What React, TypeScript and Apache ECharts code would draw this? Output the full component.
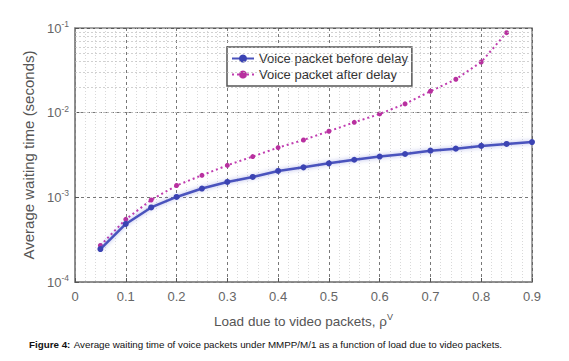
import React, { useEffect, useRef } from "react";
import * as echarts from "echarts";

const loadBefore = [0.05, 0.1, 0.15, 0.2, 0.25, 0.3, 0.35, 0.4, 0.45, 0.5, 0.55, 0.6, 0.65, 0.7, 0.75, 0.8, 0.85, 0.9];
const waitBefore = [2.45e-4, 4.85e-4, 7.6e-4, 1.01e-3, 1.27e-3, 1.52e-3, 1.74e-3, 2.05e-3, 2.26e-3, 2.52e-3, 2.78e-3, 3.03e-3, 3.25e-3, 3.56e-3, 3.76e-3, 4.05e-3, 4.27e-3, 4.5e-3];
const loadAfter = [0.05, 0.1, 0.15, 0.2, 0.25, 0.3, 0.35, 0.4, 0.45, 0.5, 0.55, 0.6, 0.65, 0.7, 0.75, 0.8, 0.85];
const waitAfter = [2.7e-4, 5.5e-4, 9.3e-4, 1.38e-3, 1.82e-3, 2.39e-3, 3.03e-3, 3.87e-3, 4.76e-3, 6.03e-3, 7.69e-3, 9.66e-3, 1.27e-2, 1.79e-2, 2.48e-2, 3.97e-2, 8.8e-2];
const xTicks = [0, 0.1, 0.2, 0.3, 0.4, 0.5, 0.6, 0.7, 0.8, 0.9];
const decades = [1e-4, 1e-3, 1e-2];
const minorMultipliers = [2, 3, 4, 5, 6, 7, 8, 9];

const FONT = "'Liberation Sans', Arial, sans-serif";

export default function App() {
  const ref = useRef<HTMLDivElement>(null);
  useEffect(() => {
    if (!ref.current) return;
    const chart = echarts.init(ref.current, undefined, { renderer: "svg" });
    const minorLines: any[] = [];
    decades.forEach((d) => minorMultipliers.forEach((m) => minorLines.push({ yAxis: d * m })));

    chart.setOption({
      animation: false,
      textStyle: { fontFamily: FONT },
      grid: { left: 67, top: 20, width: 457, height: 254, show: true, borderColor: "#888", borderWidth: 1.5, backgroundColor: "#fff" },
      legend: {
        show: true,
        left: 219,
        top: 39,
        orient: "vertical",
        itemGap: 3,
        itemWidth: 22,
        itemHeight: 10,
        padding: [5, 4, 5, 4],
        backgroundColor: "#fff",
        borderColor: "#555",
        borderWidth: 1.5,
        textStyle: { fontFamily: FONT, fontSize: 13, color: "#333" },
        data: ["Voice packet before delay", "Voice packet after delay"],
      },
      xAxis: {
        type: "value",
        min: xTicks[0],
        max: xTicks[xTicks.length - 1],
        interval: 0.1,
        axisLine: { show: true, lineStyle: { color: "#888", width: 1.5 } },
        axisTick: { show: true, inside: true, length: 4, lineStyle: { color: "#555" } },
        axisLabel: {
          color: "#666",
          fontSize: 13,
          margin: 8,
          formatter: (v: number) => (Math.abs(v) < 1e-9 ? "0" : v.toFixed(1)),
        },
        splitLine: { show: true, lineStyle: { color: "#555", type: [3, 3], width: 0.8 } },
        minorTick: { show: false, splitNumber: 5 },
        minorSplitLine: { show: true, lineStyle: { color: "#c8c8c8", type: [1, 2], width: 0.7 } },
        name: "{n|Load due to video packets, ρ}{s|V}",
        nameLocation: "middle",
        nameGap: 30,
        nameTextStyle: {
          rich: {
            n: { fontSize: 13.5, color: "#555", fontFamily: FONT },
            s: { fontSize: 9, color: "#555", fontFamily: FONT, verticalAlign: "top", padding: [0, 0, 10, 0] },
          },
        },
      },
      yAxis: {
        type: "log",
        logBase: 10,
        min: 1e-4,
        max: 1e-1,
        axisLine: { show: true, lineStyle: { color: "#888", width: 1.5 } },
        axisTick: { show: true, inside: true, length: 4, lineStyle: { color: "#555" } },
        axisLabel: {
          color: "#666",
          margin: 6,
          formatter: (v: number) => `{b|10}{s|${Math.round(Math.log10(v))}}`,
          rich: {
            b: { fontSize: 13, color: "#666", fontFamily: FONT },
            s: { fontSize: 8.5, color: "#666", fontFamily: FONT, verticalAlign: "top", padding: [0, 0, 8, 0] },
          },
        },
        splitLine: { show: true, lineStyle: { color: "#555", type: [3, 3], width: 0.8 } },
        name: "Average waiting time (seconds)",
        nameLocation: "middle",
        nameGap: 29,
        nameRotate: 90,
        nameTextStyle: { fontSize: 15, color: "#555", fontFamily: FONT },
      },
      series: [
        {
          name: "grid-minor",
          type: "line",
          data: [],
          silent: true,
          markLine: {
            silent: true,
            symbol: "none",
            label: { show: false },
            lineStyle: { color: "#bdbdbd", type: [2, 2], width: 0.7 },
            data: minorLines,
          },
        },
        {
          name: "Voice packet before delay",
          type: "line",
          data: loadBefore.map((x, i) => [x, waitBefore[i]]),
          color: "#3b43b3",
          lineStyle: { width: 2.5, color: "#4a52bd", shadowColor: "rgba(90,100,210,0.5)", shadowBlur: 4 },
          symbol: "circle",
          symbolSize: 6,
          itemStyle: { color: "#3b43b3" },
          z: 4,
        },
        {
          name: "Voice packet after delay",
          type: "line",
          data: loadAfter.map((x, i) => [x, waitAfter[i]]),
          color: "#c03cb0",
          lineStyle: { width: 2, type: [2, 3], color: "#c03cb0" },
          symbol: "circle",
          symbolSize: 5,
          itemStyle: { color: "#b8309f" },
          z: 3,
        },
      ],
      graphic: [
        {
          type: "text",
          left: 21,
          top: 330,
          style: {
            text: "{b|Figure 4:} {r|Average waiting time of voice packets under MMPP/M/1 as a function of load due to video packets.}",
            rich: {
              b: { fontWeight: "bold", fontSize: 9.8, fill: "#111", fontFamily: FONT },
              r: { fontSize: 9.8, fill: "#111", fontFamily: FONT },
            },
          },
        },
      ],
    });
    return () => chart.dispose();
  }, []);
  return <div ref={ref} style={{ width: 553, height: 353 }} />;
}
